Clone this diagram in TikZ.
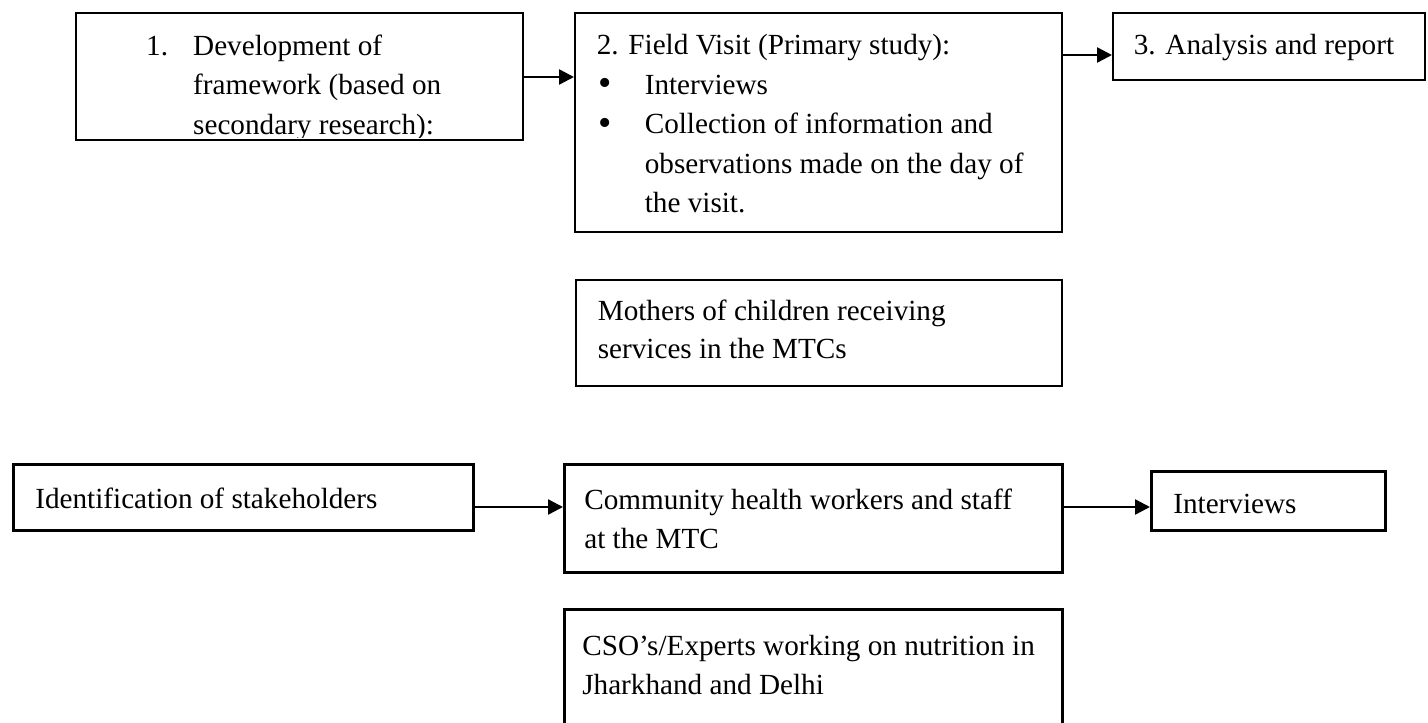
\documentclass[tikz,border=0pt]{standalone}
\usepackage{fontspec}
\usepackage{graphicx}
\setmainfont{Liberation Serif}
\usetikzlibrary{arrows.meta}
\newcommand{\bc}[4]{\parbox[t][#2][t]{#1}{\fontsize{29.2pt}{#3}\selectfont #4}}
\newcommand{\bul}{\raisebox{-1.5pt}{\scalebox{1.3}{\textbullet}}}
\tikzset{
  box/.style={draw, line width=1.6pt, inner sep=0pt, anchor=north west},
  boxb/.style={box, line width=2.6pt},
  arr/.style={line width=2.4pt, -{Triangle[length=15pt,width=15pt]}},
}
\begin{document}
\begin{tikzpicture}[x=1pt,y=-1pt]
\clip (0,0) rectangle (1428,723);
\fill[white] (0,0) rectangle (1428,723);
% top row
\node[box, minimum width=447pt, minimum height=127pt] (b1) at (75,12) {};
\begin{scope}
\clip (75,12) rectangle (522,137);
\node[anchor=north west, inner sep=0pt] (b1t) at (75,12) {\bc{447pt}{127pt}{39.5pt}{\rule{0pt}{43pt}\hspace*{71pt}\makebox[47pt][l]{1.}Development of\\
\hspace*{118pt}framework (based on\\
\hspace*{118pt}secondary research):}};
\end{scope}
\node[box] (b2) at (574,12) {\bc{487pt}{219pt}{39.5pt}{\rule{0pt}{42pt}\hspace*{22pt}2. Field Visit (Primary study):\\
\hspace*{24pt}\makebox[46pt][l]{\bul}Interviews\\
\hspace*{24pt}\makebox[46pt][l]{\bul}Collection of information and\\
\hspace*{70pt}observations made on the day of\\
\hspace*{70pt}the visit.}};
\node[box] (b3) at (1112,12) {\bc{312pt}{67pt}{39.5pt}{\rule{0pt}{42pt}\hspace*{21pt}3. Analysis and report}};
% middle
\node[box] (m) at (575,279) {\bc{486pt}{106pt}{38pt}{\rule{0pt}{41pt}\hspace*{22pt}Mothers of children receiving\\
\hspace*{22pt}services in the MTCs}};
% bottom row
\node[boxb] (id) at (12,463) {\bc{460pt}{66pt}{38pt}{\rule{0pt}{44pt}\hspace*{22pt}Identification of stakeholders}};
\node[boxb] (chw) at (563,463) {\bc{498pt}{108pt}{39pt}{\rule{0pt}{45pt}\hspace*{20pt}Community health workers and staff\\
\hspace*{20pt}at the MTC}};
\node[boxb] (iv) at (1150,470) {\bc{234pt}{59pt}{38pt}{\rule{0pt}{42pt}\hspace*{22pt}Interviews}};
\node[boxb] (cso) at (563,608) {\bc{498pt}{150pt}{39pt}{\rule{0pt}{46pt}\hspace*{18pt}CSO’s/Experts working on nutrition in\\
\hspace*{18pt}Jharkhand and Delhi}};
% connectors
\draw[arr] (b1.east |- 0,77) -- (b2.west |- 0,77);
\draw[arr] (b2.east |- 0,55) -- (b3.west |- 0,55);
\draw[arr] (id.east |- 0,507) -- (chw.west |- 0,507);
\draw[arr] (chw.east |- 0,507) -- (iv.west |- 0,507);
\end{tikzpicture}
\end{document}
